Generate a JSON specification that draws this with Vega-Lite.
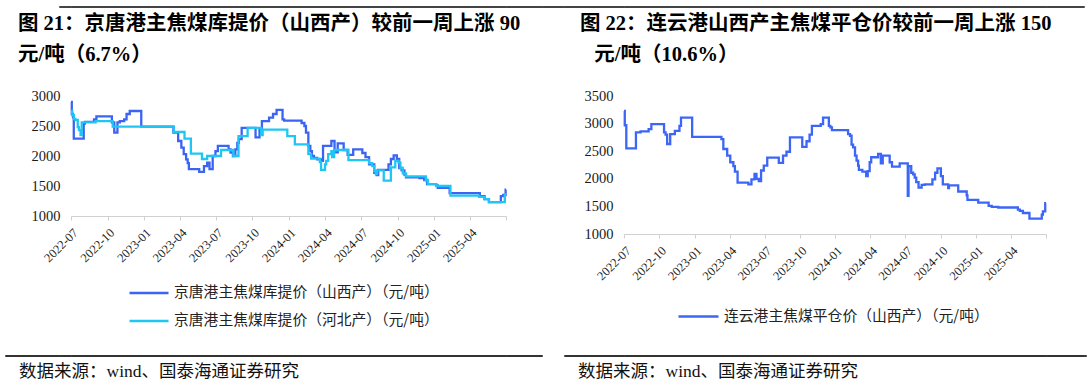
{
  "$schema": "https://vega.github.io/schema/vega-lite/v6.json",
  "padding": {"left": 0, "top": 5, "right": 0, "bottom": 6},
  "background": "white",
  "config": {
    "view": {"stroke": null},
    "font": "Liberation Serif, Noto Sans CJK SC"
  },
  "columns": 10,
  "spacing": {"row": 89, "column": 0},
  "align": {"row": "each", "column": "each"},
  "bounds": "flush",
  "resolve": {"scale": {"color": "independent"}, "legend": {"color": "independent"}},
  "datasets": {
    "left": [
      {"d": "2022-07-01", "s": "山西产", "v": 2900},
      {"d": "2022-07-03", "s": "山西产", "v": 2700},
      {"d": "2022-07-06", "s": "山西产", "v": 2650},
      {"d": "2022-07-08", "s": "山西产", "v": 2290},
      {"d": "2022-08-02", "s": "山西产", "v": 2540},
      {"d": "2022-08-05", "s": "山西产", "v": 2570},
      {"d": "2022-08-28", "s": "山西产", "v": 2610},
      {"d": "2022-09-03", "s": "山西产", "v": 2660},
      {"d": "2022-10-12", "s": "山西产", "v": 2560},
      {"d": "2022-10-18", "s": "山西产", "v": 2390},
      {"d": "2022-10-26", "s": "山西产", "v": 2560},
      {"d": "2022-11-01", "s": "山西产", "v": 2580},
      {"d": "2022-11-12", "s": "山西产", "v": 2610},
      {"d": "2022-11-18", "s": "山西产", "v": 2700},
      {"d": "2022-11-26", "s": "山西产", "v": 2750},
      {"d": "2022-12-25", "s": "山西产", "v": 2490},
      {"d": "2023-03-16", "s": "山西产", "v": 2390},
      {"d": "2023-03-28", "s": "山西产", "v": 2250},
      {"d": "2023-04-05", "s": "山西产", "v": 2140},
      {"d": "2023-04-11", "s": "山西产", "v": 2030},
      {"d": "2023-04-17", "s": "山西产", "v": 1945},
      {"d": "2023-04-21", "s": "山西产", "v": 1880},
      {"d": "2023-04-24", "s": "山西产", "v": 1780},
      {"d": "2023-05-20", "s": "山西产", "v": 1735},
      {"d": "2023-06-01", "s": "山西产", "v": 1830},
      {"d": "2023-06-09", "s": "山西产", "v": 1890},
      {"d": "2023-06-15", "s": "山西产", "v": 1780},
      {"d": "2023-06-23", "s": "山西产", "v": 2000},
      {"d": "2023-06-30", "s": "山西产", "v": 2080},
      {"d": "2023-07-06", "s": "山西产", "v": 2170},
      {"d": "2023-08-02", "s": "山西产", "v": 2110},
      {"d": "2023-08-07", "s": "山西产", "v": 2055},
      {"d": "2023-08-13", "s": "山西产", "v": 2000},
      {"d": "2023-08-19", "s": "山西产", "v": 2110},
      {"d": "2023-08-24", "s": "山西产", "v": 2220},
      {"d": "2023-08-28", "s": "山西产", "v": 2280},
      {"d": "2023-09-04", "s": "山西产", "v": 2470},
      {"d": "2023-10-09", "s": "山西产", "v": 2310},
      {"d": "2023-10-19", "s": "山西产", "v": 2440},
      {"d": "2023-10-25", "s": "山西产", "v": 2580},
      {"d": "2023-11-12", "s": "山西产", "v": 2640},
      {"d": "2023-11-22", "s": "山西产", "v": 2700},
      {"d": "2023-12-01", "s": "山西产", "v": 2770},
      {"d": "2023-12-16", "s": "山西产", "v": 2610},
      {"d": "2023-12-20", "s": "山西产", "v": 2590},
      {"d": "2024-02-02", "s": "山西产", "v": 2550},
      {"d": "2024-02-09", "s": "山西产", "v": 2500},
      {"d": "2024-02-13", "s": "山西产", "v": 2390},
      {"d": "2024-02-19", "s": "山西产", "v": 2170},
      {"d": "2024-02-24", "s": "山西产", "v": 2080},
      {"d": "2024-02-28", "s": "山西产", "v": 2000},
      {"d": "2024-03-04", "s": "山西产", "v": 1970},
      {"d": "2024-03-12", "s": "山西产", "v": 1945},
      {"d": "2024-03-22", "s": "山西产", "v": 1920},
      {"d": "2024-03-27", "s": "山西产", "v": 2170},
      {"d": "2024-04-17", "s": "山西产", "v": 2250},
      {"d": "2024-04-25", "s": "山西产", "v": 2060},
      {"d": "2024-05-03", "s": "山西产", "v": 2210},
      {"d": "2024-05-18", "s": "山西产", "v": 2100},
      {"d": "2024-05-28", "s": "山西产", "v": 2020},
      {"d": "2024-06-11", "s": "山西产", "v": 2110},
      {"d": "2024-07-04", "s": "山西产", "v": 2050},
      {"d": "2024-07-12", "s": "山西产", "v": 1980},
      {"d": "2024-07-21", "s": "山西产", "v": 1860},
      {"d": "2024-08-03", "s": "山西产", "v": 1720},
      {"d": "2024-08-09", "s": "山西产", "v": 1680},
      {"d": "2024-08-13", "s": "山西产", "v": 1770},
      {"d": "2024-09-08", "s": "山西产", "v": 1860},
      {"d": "2024-09-14", "s": "山西产", "v": 1950},
      {"d": "2024-09-21", "s": "山西产", "v": 2010},
      {"d": "2024-09-29", "s": "山西产", "v": 1950},
      {"d": "2024-10-05", "s": "山西产", "v": 1800},
      {"d": "2024-10-11", "s": "山西产", "v": 1760},
      {"d": "2024-10-18", "s": "山西产", "v": 1690},
      {"d": "2024-10-22", "s": "山西产", "v": 1645},
      {"d": "2024-11-25", "s": "山西产", "v": 1630},
      {"d": "2024-12-07", "s": "山西产", "v": 1600},
      {"d": "2024-12-14", "s": "山西产", "v": 1530},
      {"d": "2025-01-06", "s": "山西产", "v": 1510},
      {"d": "2025-01-10", "s": "山西产", "v": 1470},
      {"d": "2025-02-09", "s": "山西产", "v": 1380},
      {"d": "2025-04-26", "s": "山西产", "v": 1330},
      {"d": "2025-05-08", "s": "山西产", "v": 1280},
      {"d": "2025-05-19", "s": "山西产", "v": 1230},
      {"d": "2025-06-18", "s": "山西产", "v": 1330},
      {"d": "2025-06-24", "s": "山西产", "v": 1350},
      {"d": "2025-06-30", "s": "山西产", "v": 1440},
      {"d": "2025-07-01", "s": "山西产", "v": 1440},
      {"d": "2022-07-01", "s": "河北产", "v": 2750},
      {"d": "2022-07-04", "s": "河北产", "v": 2680},
      {"d": "2022-07-08", "s": "河北产", "v": 2620},
      {"d": "2022-07-12", "s": "河北产", "v": 2600},
      {"d": "2022-07-18", "s": "河北产", "v": 2480},
      {"d": "2022-07-21", "s": "河北产", "v": 2430},
      {"d": "2022-07-25", "s": "河北产", "v": 2350},
      {"d": "2022-07-28", "s": "河北产", "v": 2560},
      {"d": "2022-09-01", "s": "河北产", "v": 2580},
      {"d": "2022-10-14", "s": "河北产", "v": 2490},
      {"d": "2023-03-17", "s": "河北产", "v": 2400},
      {"d": "2023-04-13", "s": "河北产", "v": 2290},
      {"d": "2023-04-29", "s": "河北产", "v": 2040},
      {"d": "2023-05-27", "s": "河北产", "v": 1950},
      {"d": "2023-06-09", "s": "河北产", "v": 2000},
      {"d": "2023-07-14", "s": "河北产", "v": 2100},
      {"d": "2023-08-14", "s": "河北产", "v": 2000},
      {"d": "2023-08-27", "s": "河北产", "v": 2330},
      {"d": "2023-09-19", "s": "河北产", "v": 2470},
      {"d": "2023-10-23", "s": "河北产", "v": 2350},
      {"d": "2023-10-27", "s": "河北产", "v": 2440},
      {"d": "2023-12-28", "s": "河北产", "v": 2330},
      {"d": "2024-01-16", "s": "河北产", "v": 2195},
      {"d": "2024-02-19", "s": "河北产", "v": 2030},
      {"d": "2024-02-26", "s": "河北产", "v": 1955},
      {"d": "2024-03-19", "s": "河北产", "v": 1900},
      {"d": "2024-03-22", "s": "河北产", "v": 1770},
      {"d": "2024-04-01", "s": "河北产", "v": 1860},
      {"d": "2024-04-04", "s": "河北产", "v": 1920},
      {"d": "2024-04-09", "s": "河北产", "v": 2030},
      {"d": "2024-04-17", "s": "河北产", "v": 2080},
      {"d": "2024-04-19", "s": "河北产", "v": 1980},
      {"d": "2024-04-24", "s": "河北产", "v": 2100},
      {"d": "2024-05-30", "s": "河北产", "v": 1930},
      {"d": "2024-07-21", "s": "河北产", "v": 1880},
      {"d": "2024-07-29", "s": "河北产", "v": 1830},
      {"d": "2024-08-03", "s": "河北产", "v": 1750},
      {"d": "2024-08-07", "s": "河北产", "v": 1700},
      {"d": "2024-08-10", "s": "河北产", "v": 1760},
      {"d": "2024-08-27", "s": "河北产", "v": 1590},
      {"d": "2024-09-14", "s": "河北产", "v": 1810},
      {"d": "2024-09-25", "s": "河北产", "v": 1920},
      {"d": "2024-10-03", "s": "河北产", "v": 1890},
      {"d": "2024-10-08", "s": "河北产", "v": 1800},
      {"d": "2024-10-14", "s": "河北产", "v": 1710},
      {"d": "2024-10-22", "s": "河北产", "v": 1660},
      {"d": "2024-12-11", "s": "河北产", "v": 1600},
      {"d": "2024-12-16", "s": "河北产", "v": 1530},
      {"d": "2025-01-06", "s": "河北产", "v": 1500},
      {"d": "2025-02-11", "s": "河北产", "v": 1340},
      {"d": "2025-04-24", "s": "河北产", "v": 1320},
      {"d": "2025-05-07", "s": "河北产", "v": 1280},
      {"d": "2025-05-19", "s": "河北产", "v": 1230},
      {"d": "2025-06-28", "s": "河北产", "v": 1360},
      {"d": "2025-07-01", "s": "河北产", "v": 1360}
    ],
    "right": [
      {"d": "2022-07-01", "s": "山西产", "v": 3230},
      {"d": "2022-07-03", "s": "山西产", "v": 2970},
      {"d": "2022-07-07", "s": "山西产", "v": 2550},
      {"d": "2022-08-01", "s": "山西产", "v": 2840},
      {"d": "2022-08-13", "s": "山西产", "v": 2860},
      {"d": "2022-09-03", "s": "山西产", "v": 2900},
      {"d": "2022-09-10", "s": "山西产", "v": 2990},
      {"d": "2022-10-13", "s": "山西产", "v": 2840},
      {"d": "2022-10-17", "s": "山西产", "v": 2800},
      {"d": "2022-10-21", "s": "山西产", "v": 2630},
      {"d": "2022-10-29", "s": "山西产", "v": 2810},
      {"d": "2022-11-10", "s": "山西产", "v": 2870},
      {"d": "2022-11-22", "s": "山西产", "v": 2960},
      {"d": "2022-11-26", "s": "山西产", "v": 3110},
      {"d": "2022-12-25", "s": "山西产", "v": 2760},
      {"d": "2023-03-11", "s": "山西产", "v": 2720},
      {"d": "2023-03-16", "s": "山西产", "v": 2540},
      {"d": "2023-03-26", "s": "山西产", "v": 2420},
      {"d": "2023-04-03", "s": "山西产", "v": 2300},
      {"d": "2023-04-11", "s": "山西产", "v": 2230},
      {"d": "2023-04-15", "s": "山西产", "v": 2130},
      {"d": "2023-04-22", "s": "山西产", "v": 1930},
      {"d": "2023-05-20", "s": "山西产", "v": 1900},
      {"d": "2023-05-28", "s": "山西产", "v": 1990},
      {"d": "2023-06-05", "s": "山西产", "v": 2090},
      {"d": "2023-06-10", "s": "山西产", "v": 2000},
      {"d": "2023-06-16", "s": "山西产", "v": 1960},
      {"d": "2023-06-22", "s": "山西产", "v": 2150},
      {"d": "2023-06-29", "s": "山西产", "v": 2240},
      {"d": "2023-07-08", "s": "山西产", "v": 2385},
      {"d": "2023-08-07", "s": "山西产", "v": 2290},
      {"d": "2023-08-18", "s": "山西产", "v": 2420},
      {"d": "2023-08-27", "s": "山西产", "v": 2490},
      {"d": "2023-09-05", "s": "山西产", "v": 2750},
      {"d": "2023-10-07", "s": "山西产", "v": 2580},
      {"d": "2023-10-18", "s": "山西产", "v": 2680},
      {"d": "2023-10-26", "s": "山西产", "v": 2800},
      {"d": "2023-11-01", "s": "山西产", "v": 2960},
      {"d": "2023-11-24", "s": "山西产", "v": 2990},
      {"d": "2023-11-30", "s": "山西产", "v": 3110},
      {"d": "2023-12-15", "s": "山西产", "v": 2960},
      {"d": "2023-12-19", "s": "山西产", "v": 2930},
      {"d": "2023-12-23", "s": "山西产", "v": 2880},
      {"d": "2024-02-03", "s": "山西产", "v": 2810},
      {"d": "2024-02-08", "s": "山西产", "v": 2780},
      {"d": "2024-02-12", "s": "山西产", "v": 2620},
      {"d": "2024-02-16", "s": "山西产", "v": 2570},
      {"d": "2024-02-21", "s": "山西产", "v": 2420},
      {"d": "2024-02-25", "s": "山西产", "v": 2330},
      {"d": "2024-02-29", "s": "山西产", "v": 2240},
      {"d": "2024-03-02", "s": "山西产", "v": 2160},
      {"d": "2024-03-11", "s": "山西产", "v": 2130},
      {"d": "2024-03-21", "s": "山西产", "v": 2050},
      {"d": "2024-03-25", "s": "山西产", "v": 2140},
      {"d": "2024-03-30", "s": "山西产", "v": 2300},
      {"d": "2024-04-03", "s": "山西产", "v": 2390},
      {"d": "2024-04-21", "s": "山西产", "v": 2450},
      {"d": "2024-04-28", "s": "山西产", "v": 2280},
      {"d": "2024-05-03", "s": "山西产", "v": 2420},
      {"d": "2024-05-21", "s": "山西产", "v": 2300},
      {"d": "2024-05-27", "s": "山西产", "v": 2220},
      {"d": "2024-06-16", "s": "山西产", "v": 2280},
      {"d": "2024-07-07", "s": "山西产", "v": 1690},
      {"d": "2024-07-09", "s": "山西产", "v": 2230},
      {"d": "2024-07-16", "s": "山西产", "v": 2110},
      {"d": "2024-07-21", "s": "山西产", "v": 2080},
      {"d": "2024-07-25", "s": "山西产", "v": 2020},
      {"d": "2024-07-29", "s": "山西产", "v": 1940},
      {"d": "2024-08-04", "s": "山西产", "v": 1840},
      {"d": "2024-08-12", "s": "山西产", "v": 1890},
      {"d": "2024-08-20", "s": "山西产", "v": 1900},
      {"d": "2024-09-09", "s": "山西产", "v": 1990},
      {"d": "2024-09-16", "s": "山西产", "v": 2110},
      {"d": "2024-09-22", "s": "山西产", "v": 2190},
      {"d": "2024-10-01", "s": "山西产", "v": 2050},
      {"d": "2024-10-06", "s": "山西产", "v": 1900},
      {"d": "2024-10-20", "s": "山西产", "v": 1830},
      {"d": "2024-10-22", "s": "山西产", "v": 1880},
      {"d": "2024-11-15", "s": "山西产", "v": 1770},
      {"d": "2024-12-07", "s": "山西产", "v": 1700},
      {"d": "2024-12-09", "s": "山西产", "v": 1620},
      {"d": "2025-01-06", "s": "山西产", "v": 1570},
      {"d": "2025-02-02", "s": "山西产", "v": 1510},
      {"d": "2025-02-10", "s": "山西产", "v": 1490},
      {"d": "2025-02-27", "s": "山西产", "v": 1480},
      {"d": "2025-04-19", "s": "山西产", "v": 1440},
      {"d": "2025-04-24", "s": "山西产", "v": 1420},
      {"d": "2025-05-02", "s": "山西产", "v": 1380},
      {"d": "2025-05-19", "s": "山西产", "v": 1280},
      {"d": "2025-06-20", "s": "山西产", "v": 1350},
      {"d": "2025-06-23", "s": "山西产", "v": 1410},
      {"d": "2025-06-29", "s": "山西产", "v": 1560},
      {"d": "2025-07-01", "s": "山西产", "v": 1560}
    ]
  },
  "concat": [
    {"width": 5, "height": 1, "data": {"values": []}, "mark": "text", "encoding": {}},
    {"width": 54, "height": 1, "data": {"values": []}, "mark": "text", "encoding": {}},
    {"width": 12, "height": 1, "data": {"values": []}, "mark": "text", "encoding": {}, "view": {"stroke": "#444444", "strokeWidth": 1}},
    {"width": 435, "height": 1, "data": {"values": []}, "mark": "text", "encoding": {}, "view": {"stroke": "#444444", "strokeWidth": 1}},
    {"width": 36, "height": 1, "data": {"values": []}, "mark": "text", "encoding": {}, "view": {"stroke": "#444444", "strokeWidth": 1}},
    {"width": 22, "height": 1, "data": {"values": []}, "mark": "text", "encoding": {}, "view": {"stroke": "#444444", "strokeWidth": 1}},
    {"width": 60, "height": 1, "data": {"values": []}, "mark": "text", "encoding": {}, "view": {"stroke": "#444444", "strokeWidth": 1}},
    {"width": 422, "height": 1, "data": {"values": []}, "mark": "text", "encoding": {}, "view": {"stroke": "#444444", "strokeWidth": 1}},
    {"width": 38, "height": 1, "data": {"values": []}, "mark": "text", "encoding": {}, "view": {"stroke": "#444444", "strokeWidth": 1}},
    {"width": 2, "height": 1, "data": {"values": []}, "mark": "text", "encoding": {}},

    {"width": 5, "height": 170, "data": {"values": []}, "mark": "text", "encoding": {}},
    {"width": 54, "height": 1, "data": {"values": []}, "mark": "text", "encoding": {}},
    {"width": 12, "height": 1, "data": {"values": []}, "mark": "text", "encoding": {}},
    {
      "width": 435, "height": 120,
      "data": {"name": "left"},
      "title": {
        "text": ["图 21：京唐港主焦煤库提价（山西产）较前一周上涨 90", "元/吨（6.7%）"],
        "anchor": "start", "frame": "group", "dx": -53, "offset": 22.5,
        "fontSize": 20.5, "fontWeight": "bold", "lineHeight": 31.5, "color": "#000000",
        "font": "Liberation Serif, Noto Sans CJK SC"
      },
      "mark": {"type": "line", "interpolate": "step-after", "strokeWidth": 2.3},
      "encoding": {
        "x": {
          "field": "d", "type": "temporal",
          "scale": {"type": "utc", "domain": [{"year": 2022, "month": 7, "date": 1, "utc": true}, {"year": 2025, "month": 7, "date": 1, "utc": true}]},
          "axis": {
            "title": null, "grid": false,
            "values": [
              {"year": 2022, "month": 7, "date": 1, "utc": true},
              {"year": 2022, "month": 10, "date": 1, "utc": true},
              {"year": 2023, "month": 1, "date": 1, "utc": true},
              {"year": 2023, "month": 4, "date": 1, "utc": true},
              {"year": 2023, "month": 7, "date": 1, "utc": true},
              {"year": 2023, "month": 10, "date": 1, "utc": true},
              {"year": 2024, "month": 1, "date": 1, "utc": true},
              {"year": 2024, "month": 4, "date": 1, "utc": true},
              {"year": 2024, "month": 7, "date": 1, "utc": true},
              {"year": 2024, "month": 10, "date": 1, "utc": true},
              {"year": 2025, "month": 1, "date": 1, "utc": true},
              {"year": 2025, "month": 4, "date": 1, "utc": true},
              {"year": 2025, "month": 7, "date": 1, "utc": true}
            ],
            "labelExpr": "utcyear(datum.value) == 2025 && utcmonth(datum.value) == 6 ? '' : utcFormat(datum.value, '%Y-%m')",
            "labelAngle": -45, "labelAlign": "right", "labelBaseline": "top",
            "labelFont": "Liberation Serif", "labelFontSize": 12.5, "labelColor": "#1a1a1a",
            "labelPadding": 6, "labelOverlap": false, "labelBound": false, "labelFlush": false,
            "domainColor": "#d0d0d0", "domainWidth": 1.2, "tickColor": "#d0d0d0", "tickSize": 4
          }
        },
        "y": {
          "field": "v", "type": "quantitative",
          "scale": {"domain": [1000, 3000], "nice": false, "zero": false},
          "axis": {
            "title": null, "grid": false, "domain": false, "ticks": false, "format": "d",
            "values": [1000, 1500, 2000, 2500, 3000],
            "labelFont": "Liberation Serif", "labelFontSize": 14.5, "labelColor": "#1a1a1a", "labelPadding": 11
          }
        },
        "color": {
          "field": "s", "type": "nominal",
          "scale": {"domain": ["山西产", "河北产"], "range": ["#3C64F2", "#1FC6F4"]},
          "legend": {
            "orient": "none", "legendX": 57, "legendY": 176, "direction": "vertical", "title": null, "padding": 0,
            "symbolType": "stroke", "symbolSize": 1521, "symbolStrokeWidth": 2.6,
            "labelExpr": "'京唐港主焦煤库提价（' + datum.label + '）（元/吨）'",
            "labelFont": "Noto Sans CJK SC", "labelFontSize": 14.8, "labelColor": "#222222",
            "labelOffset": 4, "rowPadding": -10, "labelLimit": 500
          }
        }
      }
    },
    {"width": 36, "height": 1, "data": {"values": []}, "mark": "text", "encoding": {}},
    {"width": 22, "height": 1, "data": {"values": []}, "mark": "text", "encoding": {}},
    {"width": 60, "height": 1, "data": {"values": []}, "mark": "text", "encoding": {}},
    {
      "width": 422, "height": 138,
      "data": {"name": "right"},
      "title": {
        "text": ["图 22：连云港山西产主焦煤平仓价较前一周上涨 150", "\u200b\u2002\u2009元/吨（10.6%）"],
        "anchor": "start", "frame": "group", "dx": -44, "offset": 22.5,
        "fontSize": 20.5, "fontWeight": "bold", "lineHeight": 31.5, "color": "#000000",
        "font": "Liberation Serif, Noto Sans CJK SC"
      },
      "mark": {"type": "line", "interpolate": "step-after", "strokeWidth": 2.3},
      "encoding": {
        "x": {
          "field": "d", "type": "temporal",
          "scale": {"type": "utc", "domain": [{"year": 2022, "month": 7, "date": 1, "utc": true}, {"year": 2025, "month": 7, "date": 1, "utc": true}]},
          "axis": {
            "title": null, "grid": false,
            "values": [
              {"year": 2022, "month": 7, "date": 1, "utc": true},
              {"year": 2022, "month": 10, "date": 1, "utc": true},
              {"year": 2023, "month": 1, "date": 1, "utc": true},
              {"year": 2023, "month": 4, "date": 1, "utc": true},
              {"year": 2023, "month": 7, "date": 1, "utc": true},
              {"year": 2023, "month": 10, "date": 1, "utc": true},
              {"year": 2024, "month": 1, "date": 1, "utc": true},
              {"year": 2024, "month": 4, "date": 1, "utc": true},
              {"year": 2024, "month": 7, "date": 1, "utc": true},
              {"year": 2024, "month": 10, "date": 1, "utc": true},
              {"year": 2025, "month": 1, "date": 1, "utc": true},
              {"year": 2025, "month": 4, "date": 1, "utc": true},
              {"year": 2025, "month": 7, "date": 1, "utc": true}
            ],
            "labelExpr": "utcyear(datum.value) == 2025 && utcmonth(datum.value) == 6 ? '' : utcFormat(datum.value, '%Y-%m')",
            "labelAngle": -45, "labelAlign": "right", "labelBaseline": "top",
            "labelFont": "Liberation Serif", "labelFontSize": 12.5, "labelColor": "#1a1a1a",
            "labelPadding": 6, "labelOverlap": false, "labelBound": false, "labelFlush": false,
            "domainColor": "#d0d0d0", "domainWidth": 1.2, "tickColor": "#d0d0d0", "tickSize": 4
          }
        },
        "y": {
          "field": "v", "type": "quantitative",
          "scale": {"domain": [1000, 3500], "nice": false, "zero": false},
          "axis": {
            "title": null, "grid": false, "domain": false, "ticks": false, "format": "d",
            "values": [1000, 1500, 2000, 2500, 3000, 3500],
            "labelFont": "Liberation Serif", "labelFontSize": 14.5, "labelColor": "#1a1a1a", "labelPadding": 11
          }
        },
        "color": {
          "field": "s", "type": "nominal",
          "scale": {"domain": ["山西产"], "range": ["#3C66F5"]},
          "legend": {
            "orient": "none", "legendX": 53, "legendY": 199, "direction": "vertical", "title": null, "padding": 0,
            "symbolType": "stroke", "symbolSize": 1600, "symbolStrokeWidth": 2.6,
            "labelExpr": "'连云港主焦煤平仓价（' + datum.label + '）（元/吨）'",
            "labelFont": "Noto Sans CJK SC", "labelFontSize": 14.8, "labelColor": "#222222",
            "labelOffset": 4, "labelLimit": 500
          }
        }
      }
    },
    {"width": 38, "height": 1, "data": {"values": []}, "mark": "text", "encoding": {}},
    {"width": 2, "height": 1, "data": {"values": []}, "mark": "text", "encoding": {}},

    {"width": 5, "height": 1, "data": {"values": []}, "mark": "text", "encoding": {}},
    {
      "width": 54, "height": 1, "data": {"values": []}, "mark": "text", "encoding": {},
      "view": {"stroke": "#333333", "strokeWidth": 1},
      "title": {"text": "数据来源：wind、国泰海通证券研究", "orient": "bottom", "anchor": "start", "frame": "group", "dx": 14, "offset": 7,
        "fontSize": 17.5, "fontWeight": "normal", "color": "#111111", "font": "Liberation Serif, Noto Sans CJK SC"}
    },
    {"width": 12, "height": 1, "data": {"values": []}, "mark": "text", "encoding": {}, "view": {"stroke": "#333333", "strokeWidth": 1}},
    {"width": 435, "height": 1, "data": {"values": []}, "mark": "text", "encoding": {}, "view": {"stroke": "#333333", "strokeWidth": 1}},
    {"width": 36, "height": 1, "data": {"values": []}, "mark": "text", "encoding": {}, "view": {"stroke": "#333333", "strokeWidth": 1}},
    {"width": 22, "height": 1, "data": {"values": []}, "mark": "text", "encoding": {}},
    {
      "width": 60, "height": 1, "data": {"values": []}, "mark": "text", "encoding": {},
      "view": {"stroke": "#333333", "strokeWidth": 1},
      "title": {"text": "数据来源：wind、国泰海通证券研究", "orient": "bottom", "anchor": "start", "frame": "group", "dx": 14, "offset": 7,
        "fontSize": 17.5, "fontWeight": "normal", "color": "#111111", "font": "Liberation Serif, Noto Sans CJK SC"}
    },
    {"width": 422, "height": 1, "data": {"values": []}, "mark": "text", "encoding": {}, "view": {"stroke": "#333333", "strokeWidth": 1}},
    {"width": 38, "height": 1, "data": {"values": []}, "mark": "text", "encoding": {}, "view": {"stroke": "#333333", "strokeWidth": 1}},
    {"width": 2, "height": 1, "data": {"values": []}, "mark": "text", "encoding": {}, "view": {"stroke": "#333333", "strokeWidth": 1}}
  ]
}
